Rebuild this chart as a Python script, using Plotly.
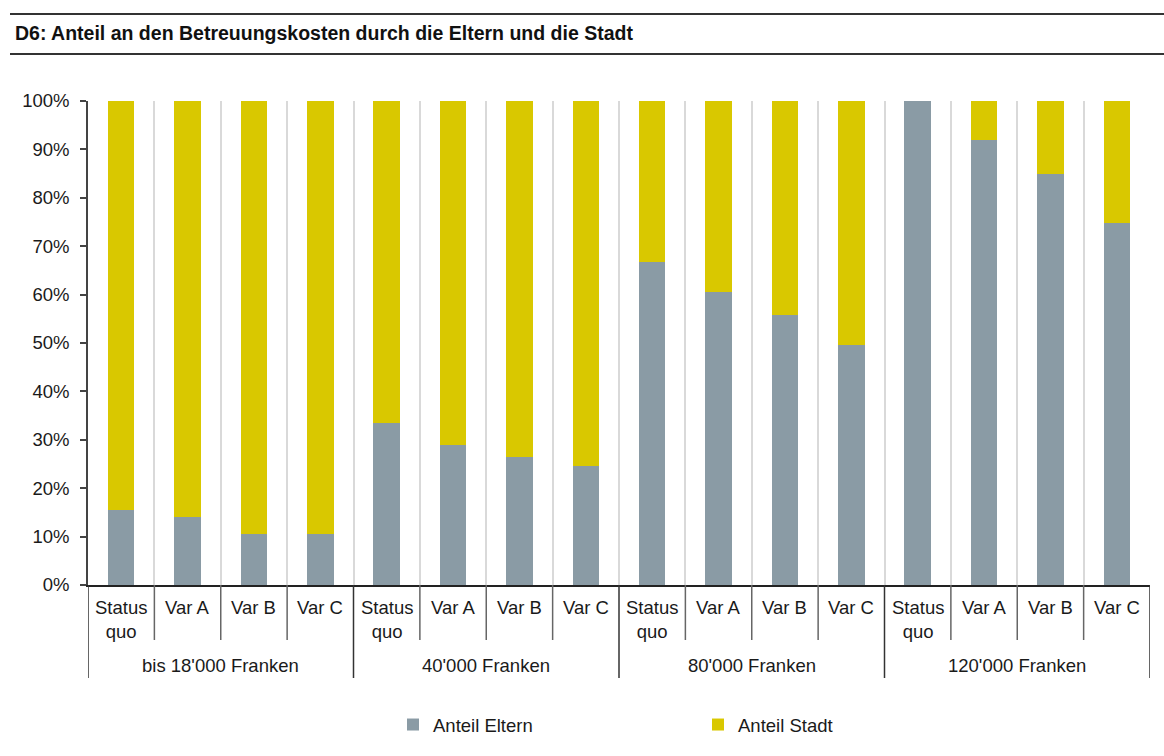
import plotly.graph_objects as go

groups = ["bis 18'000 Franken", "40'000 Franken", "80'000 Franken", "120'000 Franken"]
variants = ["Status<br>quo", "Var A", "Var B", "Var C"]
eltern = [15.5, 14.0, 10.5, 10.5,
          33.5, 29.0, 26.5, 24.5,
          66.7, 60.5, 55.8, 49.6,
          100.0, 92.0, 85.0, 74.8]
stadt = [100 - v for v in eltern]
y_ticks = [0, 10, 20, 30, 40, 50, 60, 70, 80, 90, 100]

n_var = len(variants)
n = len(groups) * n_var
xpos = list(range(n))
inner_labels = [v for _ in groups for v in variants]

GRAY = "#8A9BA5"
YELLOW = "#D9C800"
FONT = "Liberation Sans, Arial, sans-serif"
TXT = "#1a1a1a"
FS = 18.5

# pixel geometry helpers
L, R, T, B = 88, 1150, 101, 585
def py(p):
    return (B - p) / (B - T)
def px(p):
    return (p - L) / (R - L)

fig = go.Figure()
fig.add_trace(go.Bar(x=xpos, y=eltern, name="Anteil Eltern",
                     marker=dict(color=GRAY, line=dict(width=0))))
fig.add_trace(go.Bar(x=xpos, y=stadt, name="Anteil Stadt",
                     marker=dict(color=YELLOW, line=dict(width=0))))

fig.update_layout(
    barmode="stack", bargap=0.6,
    width=1164, height=756,
    margin=dict(l=L, r=1164 - R, t=T, b=756 - B, autoexpand=False),
    paper_bgcolor="white", plot_bgcolor="white",
    font=dict(family=FONT, size=FS, color=TXT),
    legend=dict(orientation="h", x=px(393), xanchor="left", y=py(725), yanchor="middle",
                entrywidth=260, entrywidthmode="pixels", itemwidth=30,
                font=dict(size=FS, color=TXT), traceorder="normal",
                bgcolor="rgba(0,0,0,0)"),
    showlegend=True,
)
fig.update_xaxes(range=[-0.5, n - 0.5], tickvals=[i - 0.5 for i in range(n + 1)],
                 showticklabels=False, ticks="", showgrid=True, gridcolor="#D9D9D9",
                 gridwidth=2, showline=True, linecolor="#222", linewidth=2,
                 zeroline=False, automargin=False, fixedrange=True)
fig.update_yaxes(range=[0, 100], tickvals=y_ticks,
                 ticktext=[f"{v}%" for v in y_ticks],
                 ticks="outside", ticklen=6, tickcolor="#444", tickwidth=1.5,
                 ticklabelstandoff=7,
                 showline=True, linecolor="#444", linewidth=1.5, showgrid=False,
                 zeroline=False, automargin=False,
                 tickfont=dict(size=FS, family=FONT, color=TXT))

# title and rules
fig.add_annotation(text="<b>D6: Anteil an den Betreuungskosten durch die Eltern und die Stadt</b>",
                   xref="paper", yref="paper", x=px(13), y=py(33), xanchor="left",
                   yanchor="middle", showarrow=False, font=dict(size=19.5, color="#111"))
for yl in [14, 54]:
    fig.add_shape(type="line", xref="paper", yref="paper",
                  x0=px(10), x1=px(1164), y0=py(yl), y1=py(yl),
                  line=dict(color="#333", width=2))

# inner category labels
for i, lab in enumerate(inner_labels):
    fig.add_annotation(text=lab, xref="x", yref="paper", x=i, y=py(595),
                       xanchor="center", yanchor="top", showarrow=False,
                       font=dict(size=FS, color=TXT))
# outer group labels
for g, lab in enumerate(groups):
    fig.add_annotation(text=lab, xref="x", yref="paper", x=g * n_var + (n_var - 1) / 2,
                       y=py(665), xanchor="center", yanchor="middle", showarrow=False,
                       font=dict(size=FS, color=TXT))
# separators
for b in range(n + 1):
    if b % n_var == 0:
        fig.add_shape(type="line", xref="x", yref="paper", x0=b - 0.5, x1=b - 0.5,
                      y0=0, y1=py(678), line=dict(color="#333", width=1.5))
    else:
        fig.add_shape(type="line", xref="x", yref="paper", x0=b - 0.5, x1=b - 0.5,
                      y0=0, y1=py(640), line=dict(color="#666", width=1.5))

fig.write_html("out.html", config={"displayModeBar": False},
               post_script="document.body.style.margin='0';")
